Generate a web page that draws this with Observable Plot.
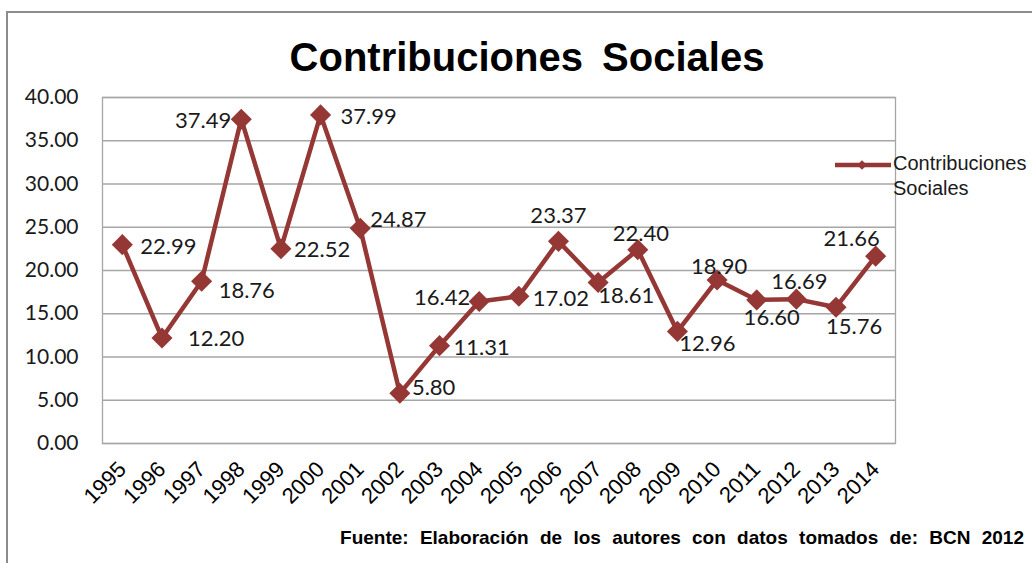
<!DOCTYPE html>
<html>
<head>
<meta charset="utf-8">
<script src="https://cdn.jsdelivr.net/npm/d3@7"></script>
<script src="https://cdn.jsdelivr.net/npm/@observablehq/plot@0.6"></script>
<style>
  html, body { margin: 0; padding: 0; background: #fff; overflow: hidden; }
  #wrap { position: relative; width: 1032px; height: 563px; }
  #frame { position: absolute; left: 6px; top: 11px; width: 2000px; height: 2000px;
           border-top: 2px solid #8c8c8c; border-left: 2px solid #8c8c8c; }
  #title { position: absolute; left: 0; width: 1054px; top: 35px; text-align: center;
           font-family: "Liberation Sans", Arial, sans-serif; font-weight: bold; font-size: 40px;
           word-spacing: 8px; color: #000; }
  #source { position: absolute; right: 8px; top: 527px; white-space: nowrap;
            font-family: "Liberation Sans", Arial, sans-serif; font-weight: bold; font-size: 19px;
            word-spacing: 6px; color: #000; }
  #chart { position: absolute; left: 0; top: 0; }
</style>
</head>
<body>
<div id="wrap">
  <div id="frame"></div>
  <div id="chart"></div>
  <div id="title">Contribuciones Sociales</div>
  <div id="source">Fuente: Elaboración de los autores con datos tomados de: BCN 2012</div>
</div>
<script>
const years = ["1995","1996","1997","1998","1999","2000","2001","2002","2003","2004",
               "2005","2006","2007","2008","2009","2010","2011","2012","2013","2014"];
const values = [22.99, 12.20, 18.76, 37.49, 22.52, 37.99, 24.87, 5.80, 11.31, 16.42,
                17.02, 23.37, 18.61, 22.40, 12.96, 18.90, 16.60, 16.69, 15.76, 21.66];
const yTicks = [0, 5, 10, 15, 20, 25, 30, 35, 40];
const seriesName = "Contribuciones Sociales";

// label placement around each point (anchor, dx, dy)
const labelPlacement = [
  ["start", 18, 2], ["start", 26, 1], ["start", 17, 10], ["end", -10, 2], ["start", 13, 1],
  ["start", 20, 2], ["start", 10, -8], ["start", 12, -5], ["start", 14, 2], ["end", -9, -4],
  ["start", 14, 3], ["middle", 0, -25], ["start", 0, 13], ["middle", 3, -16], ["middle", 30, 13],
  ["middle", 2, -13], ["middle", 15, 18], ["middle", 3, -17], ["middle", 18, 20], ["middle", -24, -17]
];

const data = years.map((year, i) => ({year, value: values[i]}));
const color = "#953735";
const labelFont = "Lato, 'Open Sans', sans-serif";
const arial = "'Liberation Sans', Arial, sans-serif";

const labelMarks = data.map((d, i) => Plot.text([d], {
  x: "year", y: "value", text: v => v.value.toFixed(2),
  textAnchor: labelPlacement[i][0], dx: labelPlacement[i][1], dy: labelPlacement[i][2],
  fontFamily: labelFont, fontSize: 22, fill: "#1a1a1a"
}));

const chart = Plot.plot({
  width: 1032,
  height: 563,
  marginLeft: 102,
  marginRight: 137,
  marginTop: 97,
  marginBottom: 120,
  style: {background: "transparent", color: "#1a1a1a"},
  x: {type: "point", domain: years, padding: 0.5, round: false, label: null},
  y: {domain: [0, 40], label: null},
  marks: [
    Plot.gridY(yTicks, {stroke: "#a6a6a6", strokeOpacity: 1, strokeWidth: 1.3}),
    Plot.frame({stroke: "#a6a6a6", strokeWidth: 1.3}),
    Plot.axisY({ticks: yTicks, tickFormat: d => d.toFixed(2), tickSize: 0, tickPadding: 24,
                fontFamily: labelFont, fontSize: 21, label: null}),
    Plot.axisX({tickRotate: -45, tickSize: 0, tickPadding: 22,
                fontFamily: arial, fontSize: 22, label: null, fill: "#000"}),
    Plot.line(data, {x: "year", y: "value", stroke: color, strokeWidth: 4.5}),
    Plot.dot(data, {x: "year", y: "value", symbol: "diamond2", r: 9.5, fill: color, stroke: "none"}),
    ...labelMarks
  ]
});
document.getElementById("chart").appendChild(chart);

const svg = d3.select(chart);
svg.selectAll('g[aria-label="x-axis tick label"]')
  .attr("font-size", 22).attr("font-family", arial);

// legend
const lg = svg.append("g").attr("transform", "translate(835,165)");
lg.append("line").attr("x1", 0).attr("x2", 56).attr("y1", 0).attr("y2", 0)
  .attr("stroke", color).attr("stroke-width", 4.5);
lg.append("path").attr("d", d3.symbol(d3.symbolDiamond2, 60)()).attr("transform", "translate(27,0)")
  .attr("fill", color);
const words = seriesName.split(" ");
words.forEach((w, i) => {
  lg.append("text").attr("x", 58).attr("y", -2 + i * 25).attr("dy", "0.35em")
    .attr("text-anchor", "start")
    .attr("font-family", arial).attr("font-size", 20)
    .attr("fill", "#1a1a1a").text(w);
});
</script>
</body>
</html>
